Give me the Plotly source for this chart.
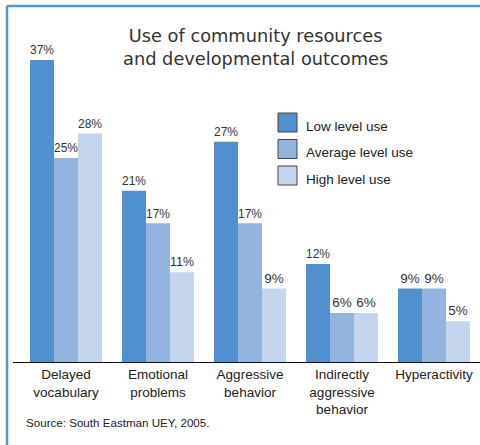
import plotly.graph_objects as go

# chart data
categories = ["Delayed<br>vocabulary", "Emotional<br>problems", "Aggressive<br>behavior",
              "Indirectly<br>aggressive<br>behavior", "Hyperactivity"]
series_names = ["Low level use", "Average level use", "High level use"]
low_use = [37, 21, 27, 12, 9]
average_use = [25, 17, 17, 6, 9]
high_use = [28, 11, 9, 6, 5]
colors = ["#5090CE", "#93B4DF", "#C5D5EE"]

fig = go.Figure()
for name, vals, col in zip(series_names, [low_use, average_use, high_use], colors):
    fig.add_trace(go.Bar(
        x=categories, y=vals, name=name, marker=dict(color=col, line=dict(width=0)),
        text=[f"{v}%" for v in vals], textposition="outside", cliponaxis=False,
        textfont=dict(family="Liberation Sans, Arial", size=13.5, color="#333333"),
    ))

# hand-drawn legend with larger boxes
shapes = []
annotations = []
for i, (name, col) in enumerate(zip(series_names, colors)):
    y0 = 113 + i * 26.5
    shapes.append(dict(type="rect", xref="paper", yref="paper",
                       x0=(278 - 13) / 467, x1=(297 - 13) / 467,
                       y0=(362 - y0 - 19) / 312, y1=(362 - y0) / 312,
                       fillcolor=col, line=dict(color="#444444", width=1)))
    annotations.append(dict(text=name, xref="paper", yref="paper",
                            x=(304 - 13) / 467, y=(362 - y0 - 13) / 312,
                            xanchor="left", yanchor="middle", showarrow=False,
                            font=dict(family="Liberation Sans, Arial", size=13.5, color="#222222")))

# frame lines (top and left)
shapes.append(dict(type="line", xref="paper", yref="paper",
                   x0=-6 / 467, x1=1.02, y0=(362 - 6) / 312, y1=(362 - 6) / 312,
                   line=dict(color="#5B95D0", width=2.5)))
shapes.append(dict(type="line", xref="paper", yref="paper",
                   x0=-6 / 467, x1=-6 / 467, y0=(362 - 6) / 312, y1=-0.3,
                   line=dict(color="#5B95D0", width=2.5)))

annotations.append(dict(text="Use of community resources<br>and developmental outcomes",
                        xref="paper", yref="paper", x=(255 - 13) / 467, y=(362 - 47) / 312,
                        xanchor="center", yanchor="middle", showarrow=False,
                        font=dict(family="DejaVu Sans, Verdana", size=17.8, color="#333333")))
annotations.append(dict(text="Source: South Eastman UEY, 2005.", xref="paper", yref="paper",
                        x=(24 - 13) / 467, y=(362 - 422) / 312, xanchor="left", yanchor="middle",
                        showarrow=False,
                        font=dict(family="Liberation Sans, Arial", size=11.6, color="#222222")))

fig.update_layout(
    width=480, height=445,
    margin=dict(l=13, r=0, t=50, b=83),
    barmode="group", bargap=20 / 92, bargroupgap=0,
    showlegend=False,
    plot_bgcolor="white", paper_bgcolor="white",
    shapes=shapes, annotations=annotations,
)
fig.update_xaxes(range=[-0.5 - 7 / 92, 4.5], showline=True, linecolor="#111111", linewidth=1,
                 ticks="", showgrid=False,
                 tickfont=dict(family="Liberation Sans, Arial", size=13.5, color="#222222"))
fig.update_yaxes(range=[0, 312 / 8.16], visible=False, showgrid=False)

fig.write_html("out.html", config={"displayModeBar": False},
               post_script="document.body.style.margin='0';document.body.style.overflow='hidden';")
